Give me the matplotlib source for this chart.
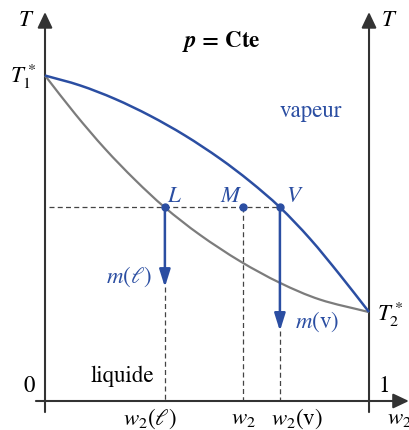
import matplotlib
matplotlib.use("Agg")
import matplotlib.pyplot as plt
import numpy as np
from matplotlib.path import Path
from matplotlib.patches import PathPatch

plt.rcParams["font.family"] = ["STIXGeneral", "DejaVu Serif"]
plt.rcParams["mathtext.fontset"] = "stix"

# Dew curve (vapeur) and boiling curve (liquide): mass fraction w2 vs temperature
w_vap = [0.0, 0.108, 0.216, 0.324, 0.432, 0.540, 0.633, 0.725, 0.818, 0.910, 1.0]
T_vap = [100.0, 96.96, 92.81, 87.65, 81.57, 74.47, 67.44, 59.51, 49.83, 38.77, 27.34]
w_liq = [0.0, 0.093, 0.185, 0.278, 0.370, 0.478, 0.602, 0.725, 0.849, 1.0]
T_liq = [100.0, 88.20, 77.51, 67.93, 59.45, 51.06, 42.95, 36.31, 31.15, 27.31]

# Tie line and the three points L, M, V
T_tie = 59.5
w_L, w_M, w_V = 0.370, 0.611, 0.725
# Ends of the arrows showing the masses of each phase
m_L_end, m_V_end = 35.0, 21.5

BLUE = "#2b4ea2"
GREY = "#7c7c7c"
AXC = "#333333"
DASH = "#444444"
FS = 16.5


def smooth_curve(xs, ys, **kw):
    """Pass a cubic Bezier path through the given points (Catmull-Rom tangents)."""
    p = np.column_stack([xs, ys]).astype(float)
    n = len(p)
    tang = np.empty_like(p)
    tang[0] = p[1] - p[0]
    tang[-1] = p[-1] - p[-2]
    tang[1:-1] = (p[2:] - p[:-2]) / 2
    verts = [p[0]]
    codes = [Path.MOVETO]
    for i in range(n - 1):
        verts += [p[i] + tang[i] / 3, p[i + 1] - tang[i + 1] / 3, p[i + 1]]
        codes += [Path.CURVE4] * 3
    return PathPatch(Path(verts, codes), fill=False, **kw)


fig = plt.figure(figsize=(4.1, 4.3), dpi=100)
ax = fig.add_axes([0, 0, 1, 1])
ax.set_xlim(-0.1389, 1.1265)
ax.set_ylim(-8.91, 123.2)
ax.axis("off")

axis_arrow = dict(arrowstyle="-|>,head_length=0.95,head_width=0.45",
                  lw=1.5, color=AXC, shrinkA=0, shrinkB=0, mutation_scale=10)
ax.annotate("", xy=(0, 119.5), xytext=(0, -3.4), arrowprops=axis_arrow)
ax.annotate("", xy=(1, 119.5), xytext=(1, -3.4), arrowprops=axis_arrow)
ax.annotate("", xy=(1.123, 0), xytext=(-0.028, 0), arrowprops=axis_arrow)

# Curves
ax.add_patch(smooth_curve(w_liq, T_liq, edgecolor=GREY, lw=1.6, zorder=3))
ax.add_patch(smooth_curve(w_vap, T_vap, edgecolor=BLUE, lw=1.8, zorder=4))

# Dashed construction lines
dash_kw = dict(color=DASH, lw=0.9, dashes=(4, 2.6), zorder=2)
ax.plot([0.012, w_V], [T_tie, T_tie], **dash_kw)
ax.plot([w_L, w_L], [m_L_end, 0], **dash_kw)
ax.plot([w_M, w_M], [T_tie, 0], **dash_kw)
ax.plot([w_V, w_V], [m_V_end, 0], **dash_kw)

# Mass arrows
mass_arrow = dict(arrowstyle="-|>,head_length=1.05,head_width=0.33",
                  lw=1.8, color=BLUE, shrinkA=0, shrinkB=0, mutation_scale=10)
ax.annotate("", xy=(w_L, m_L_end), xytext=(w_L, T_tie), arrowprops=mass_arrow, zorder=5)
ax.annotate("", xy=(w_V, m_V_end), xytext=(w_V, T_tie), arrowprops=mass_arrow, zorder=5)

# Points
ax.plot([w_L, w_M, w_V], [T_tie] * 3, "o", color=BLUE, ms=5, zorder=6)
for lab, w, dx, ha in [("L", w_L, 2, "left"), ("M", w_M, -12, "center"), ("V", w_V, 15, "center")]:
    ax.annotate(f"${lab}$", xy=(w, T_tie), xytext=(dx, 5), textcoords="offset pixels",
                ha=ha, va="baseline", color=BLUE, fontsize=FS)

ax.text(0.330, 36.25, r"$m(\ell)$", color=BLUE, fontsize=FS, ha="right", va="baseline")
ax.text(0.772, 22.4, r"$m(\mathrm{v})$", color=BLUE, fontsize=FS, ha="left", va="baseline")

# Axis labels
ax.text(-0.034, 117.0, r"$T$", fontsize=FS, ha="right", va="center")
ax.text(1.037, 117.0, r"$T$", fontsize=FS, ha="left", va="center")
ax.text(-0.028, 99.8, r"$T_1^*$", fontsize=FS, ha="right", va="center")
ax.text(1.025, 26.7, r"$T_2^*$", fontsize=FS, ha="left", va="center")
ax.text(-0.049, 4.6, "0", fontsize=FS, ha="center", va="center")
ax.text(1.046, 4.6, "1", fontsize=FS, ha="center", va="center")
ax.text(1.056, -7.2, r"$w_2$", fontsize=FS, ha="left", va="baseline")
ax.text(0.324, -7.2, r"$w_2(\ell)$", fontsize=FS, ha="center", va="baseline")
ax.text(w_M, -7.2, r"$w_2$", fontsize=FS, ha="center", va="baseline")
ax.text(0.778, -7.2, r"$w_2(\mathrm{v})$", fontsize=FS, ha="center", va="baseline")

# Region labels and title
ax.text(0.238, 5.84, "liquide", fontsize=FS, ha="center", va="baseline")
ax.text(0.821, 87.25, "vapeur", fontsize=FS, ha="center", va="baseline", color=BLUE)
ax.text(0.543, 108.8, r"$\boldsymbol{p}$" + " = Cte", fontsize=FS, ha="center",
        va="baseline", fontweight="bold")

fig.savefig("out.png", dpi=100)
